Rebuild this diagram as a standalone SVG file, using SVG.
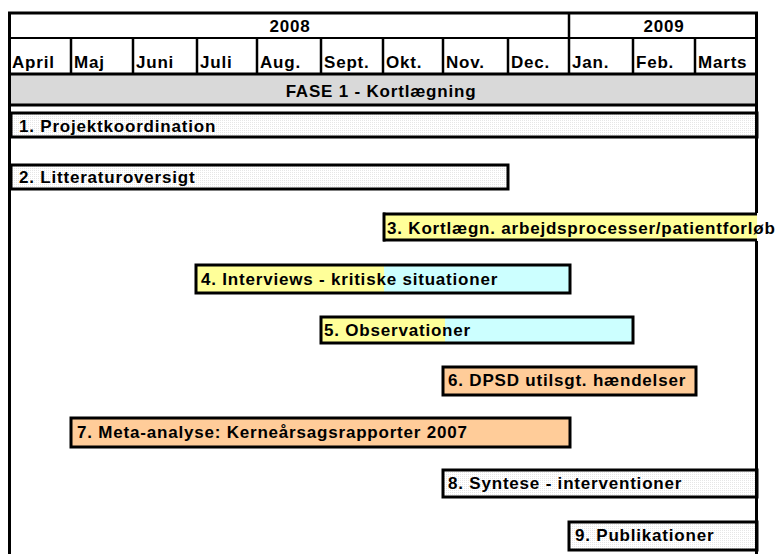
<svg xmlns="http://www.w3.org/2000/svg" width="778" height="554" viewBox="0 0 778 554">
<style>
text{font-family:"Liberation Sans",Arial,sans-serif;font-weight:bold;font-size:17px;letter-spacing:0.8px;fill:#000}
.ln{stroke:#000;fill:none}
.bar{stroke:#000;stroke-width:3}
.dot{fill:url(#dots)}
.yel{fill:#ffff99}
.cya{fill:#ccffff}
.org{fill:#ffcc99}
</style>
<defs>
<pattern id="dots" width="2" height="2" patternUnits="userSpaceOnUse">
<rect width="2" height="2" fill="#ffffff"/>
<rect width="1" height="1" fill="#e6e6e6"/>
</pattern>
</defs>
<rect width="778" height="554" fill="#fff"/>
<g id="header">
<rect x="11" y="75" width="746" height="30" fill="#d9d9d9"/>
<line class="ln" x1="8" y1="38" x2="758" y2="38" stroke-width="2"/>
<line class="ln" x1="8" y1="74" x2="758" y2="74" stroke-width="3"/>
<line class="ln" x1="8" y1="105" x2="758" y2="105" stroke-width="3"/>
<line class="ln" x1="569" y1="13" x2="569" y2="38" stroke-width="2.5"/>
<g stroke="#000" stroke-width="2.5">
<line x1="71" y1="38" x2="71" y2="74"/>
<line x1="133" y1="38" x2="133" y2="74"/>
<line x1="197" y1="38" x2="197" y2="74"/>
<line x1="257" y1="38" x2="257" y2="74"/>
<line x1="321" y1="38" x2="321" y2="74"/>
<line x1="383" y1="38" x2="383" y2="74"/>
<line x1="443" y1="38" x2="443" y2="74"/>
<line x1="508" y1="38" x2="508" y2="74"/>
<line x1="569" y1="38" x2="569" y2="74"/>
<line x1="633" y1="38" x2="633" y2="74"/>
<line x1="695" y1="38" x2="695" y2="74"/>
</g>
<text x="290" y="32" text-anchor="middle">2008</text>
<text x="664" y="32" text-anchor="middle">2009</text>
<text x="12" y="68">April</text>
<text x="74" y="68">Maj</text>
<text x="136" y="68">Juni</text>
<text x="200" y="68">Juli</text>
<text x="260" y="68">Aug.</text>
<text x="324" y="68">Sept.</text>
<text x="386" y="68">Okt.</text>
<text x="446" y="68">Nov.</text>
<text x="511" y="68">Dec.</text>
<text x="572" y="68">Jan.</text>
<text x="636" y="68">Feb.</text>
<text x="698" y="68">Marts</text>
<text x="381" y="97" text-anchor="middle">FASE 1 - Kortlægning</text>
</g>
<g id="bar1">
<rect class="bar dot" x="11" y="113" width="746" height="24"/>
<text x="19" y="132">1. Projektkoordination</text>
</g>
<g id="bar2">
<rect class="bar dot" x="11" y="165" width="497" height="24"/>
<text x="19" y="183">2. Litteraturoversigt</text>
</g>
<g id="bar3">
<rect class="yel" x="383" y="214" width="374" height="26"/>
<line class="ln" x1="383" y1="214" x2="757" y2="214" stroke-width="3"/>
<line class="ln" x1="383" y1="240" x2="757" y2="240" stroke-width="3"/>
<line class="ln" x1="384" y1="212.5" x2="384" y2="241.5" stroke-width="3"/>
<text x="387" y="234">3. Kortlægn. arbejdsprocesser/patientforløb</text>
</g>
<g id="bar4">
<rect class="cya" x="196" y="265" width="374" height="28"/>
<rect class="yel" x="196" y="265" width="188" height="28"/>
<rect class="bar" fill="none" x="196" y="265" width="374" height="28"/>
<text x="201" y="285">4. Interviews - kritiske situationer</text>
</g>
<g id="bar5">
<rect class="cya" x="321" y="317" width="312" height="26"/>
<rect class="yel" x="321" y="317" width="124" height="26"/>
<rect class="bar" fill="none" x="321" y="317" width="312" height="26"/>
<text x="324" y="336">5. Observationer</text>
</g>
<g id="bar6">
<rect class="bar org" x="443" y="367" width="253" height="28"/>
<text x="448" y="386">6. DPSD utilsgt. hændelser</text>
</g>
<g id="bar7">
<rect class="bar org" x="71" y="418" width="499" height="29"/>
<text x="77" y="438">7. Meta-analyse: Kerneårsagsrapporter 2007</text>
</g>
<g id="bar8">
<rect class="bar dot" x="443" y="470" width="314" height="27"/>
<text x="448" y="489">8. Syntese - interventioner</text>
</g>
<g id="bar9">
<rect class="bar dot" x="569" y="522" width="188" height="28"/>
<text x="575" y="541">9. Publikationer</text>
</g>
<g id="frame" stroke="#000" stroke-width="3">
<line x1="8" y1="13" x2="758" y2="13"/>
<line x1="9.5" y1="12" x2="9.5" y2="554"/>
<line x1="756.5" y1="12" x2="756.5" y2="213"/>
<line x1="756.5" y1="241" x2="756.5" y2="554"/>
</g>
</svg>
